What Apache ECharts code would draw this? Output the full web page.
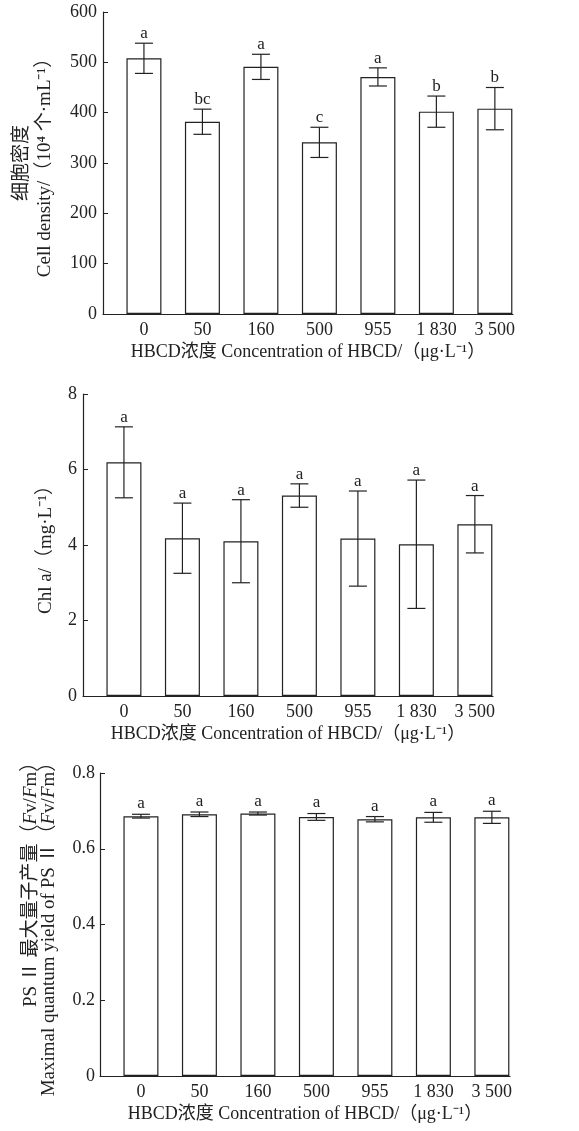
<!DOCTYPE html>
<html>
<head>
<meta charset="utf-8">
<script src="https://cdn.jsdelivr.net/npm/echarts@6/dist/echarts.min.js"></script>
<style>
  html, body { margin: 0; padding: 0; background: #fff; }
  #chart { width: 579px; height: 1131px; }
</style>
</head>
<body>
<div id="chart"></div>
<script>
var categories = ['0', '50', '160', '500', '955', '1 830', '3 500'];

var densityMean = [508, 382, 491, 341, 471, 402, 408];
var densityErr = [30, 25, 25, 30, 18, 31, 42];
var densityLetters = ['a', 'bc', 'a', 'c', 'a', 'b', 'b'];

var chlMean = [6.19, 4.18, 4.10, 5.31, 4.17, 4.02, 4.55];
var chlErr = [0.94, 0.93, 1.10, 0.31, 1.26, 1.70, 0.76];
var chlLetters = ['a', 'a', 'a', 'a', 'a', 'a', 'a'];

var fvMean = [0.686, 0.691, 0.693, 0.684, 0.678, 0.683, 0.683];
var fvErr = [0.005, 0.006, 0.004, 0.009, 0.007, 0.013, 0.016];
var fvLetters = ['a', 'a', 'a', 'a', 'a', 'a', 'a'];

var FONT = '"Liberation Serif", "Noto Sans CJK SC", serif';
var INK = '#222';
var xTitle = 'HBCD浓度 Concentration of HBCD/（μg·L⁻¹）';

var chart = echarts.init(document.getElementById('chart'));

function xAxisFor(idx) {
    return {
        type: 'value', gridIndex: idx, min: -0.7, max: 6.31,
        axisLine: { show: true, onZero: false, lineStyle: { color: INK, width: 1.2 } },
        axisTick: { show: false },
        splitLine: { show: false },
        axisLabel: {
            customValues: [0, 1, 2, 3, 4, 5, 6],
            formatter: function (v) { return categories[Math.round(v)]; },
            color: INK, fontFamily: FONT, fontSize: 18, margin: 7
        },
        name: xTitle, nameLocation: 'middle', nameGap: 29,
        nameTextStyle: { color: INK, fontFamily: FONT, fontSize: 18 }
    };
}

function yAxisFor(idx, max, interval, name, gap, margin, lh) {
    var base = { fontFamily: FONT, fontSize: 19, color: INK, lineHeight: lh };
    return {
        type: 'value', gridIndex: idx, min: 0, max: max, interval: interval,
        axisLine: { show: true, onZero: false, lineStyle: { color: INK, width: 1.2 } },
        axisTick: { show: true, inside: true, length: 5, lineStyle: { color: INK } },
        splitLine: { show: false },
        axisLabel: { color: INK, fontFamily: FONT, fontSize: 18, margin: margin },
        name: name, nameLocation: 'middle', nameRotate: 90, nameGap: gap,
        nameTextStyle: {
            color: INK, fontFamily: FONT, fontSize: 19, lineHeight: lh,
            rich: {
                i: Object.assign({ fontStyle: 'italic' }, base),
                r: Object.assign({ align: 'right' }, base),
                ri: Object.assign({ align: 'right', fontStyle: 'italic' }, base)
            }
        }
    };
}

function toBars(means) {
    return means.map(function (v, i) { return [i, v]; });
}

function toErrors(means, errs) {
    return means.map(function (v, i) { return [i, v, errs[i]]; });
}

function errorRender(letters, lift) {
    return function (params, api) {
        var x = api.value(0), m = api.value(1), e = api.value(2);
        var top = api.coord([x, m + e]);
        var bot = api.coord([x, m - e]);
        var half = 9;
        var st = { stroke: INK, lineWidth: 1.2 };
        return {
            type: 'group',
            children: [
                { type: 'line', shape: { x1: top[0], y1: top[1], x2: bot[0], y2: bot[1] }, style: st },
                { type: 'line', shape: { x1: top[0] - half, y1: top[1], x2: top[0] + half, y2: top[1] }, style: st },
                { type: 'line', shape: { x1: bot[0] - half, y1: bot[1], x2: bot[0] + half, y2: bot[1] }, style: st },
                {
                    type: 'text', x: top[0], y: top[1] - lift,
                    style: {
                        text: letters[params.dataIndex], align: 'center', verticalAlign: 'bottom',
                        fontFamily: FONT, fontSize: 17, fill: INK
                    }
                }
            ]
        };
    };
}

function barSeries(idx, means) {
    return {
        type: 'bar', xAxisIndex: idx, yAxisIndex: idx, barWidth: 35,
        data: toBars(means),
        itemStyle: { color: '#fff', borderColor: INK, borderWidth: 1.2 },
        silent: true
    };
}

function errSeries(idx, means, errs, letters, lift) {
    return {
        type: 'custom', xAxisIndex: idx, yAxisIndex: idx,
        data: toErrors(means, errs),
        encode: { x: 0, y: 1 },
        renderItem: errorRender(letters, lift),
        clip: false, z: 5, silent: true
    };
}

// first line of the PSII title is pushed to the top end, like the figure
var fvName = '{r|PS Ⅱ 最大量子产量（}{ri|F}{r|v/}{ri|F}{r|m）}\n' +
    'Maximal quantum yield of PS Ⅱ（{i|F}v/{i|F}m）';

chart.setOption({
    animation: false,
    grid: [
        { left: 103, top: 12, width: 410, height: 302 },
        { left: 83, top: 394, width: 410, height: 302 },
        { left: 100, top: 773, width: 410, height: 303 }
    ],
    xAxis: [xAxisFor(0), xAxisFor(1), xAxisFor(2)],
    yAxis: [
        yAxisFor(0, 600, 100, '细胞密度\nCell density/（10⁴ 个·mL⁻¹）', 46, 6, 23),
        yAxisFor(1, 8, 2, 'Chl a/（mg·L⁻¹）', 25, 6, 23),
        yAxisFor(2, 0.8, 0.2, fvName, 42, 5, 18)
    ],
    series: [
        barSeries(0, densityMean),
        errSeries(0, densityMean, densityErr, densityLetters, 1),
        barSeries(1, chlMean),
        errSeries(1, chlMean, chlErr, chlLetters, 1),
        barSeries(2, fvMean),
        errSeries(2, fvMean, fvErr, fvLetters, 2)
    ]
});
</script>
</body>
</html>
